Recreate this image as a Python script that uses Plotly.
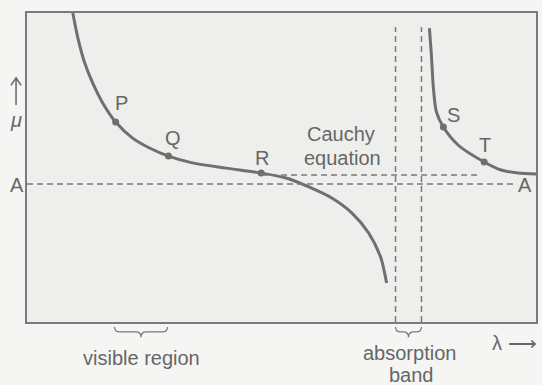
import plotly.graph_objects as go

# ---- data (arbitrary units: wavelength lambda 0-100, refractive index mu 0-100) ----
left_lambda = [9.0, 10.0, 11.35, 12.92, 14.87, 17.42, 20.74, 24.07, 27.79, 32.49,
               39.14, 45.99, 50.88, 55.38, 59.88, 63.80, 67.12, 69.47, 70.65]
left_mu = [100.0, 91.9, 83.8, 77.3, 70.9, 64.7, 59.5, 56.3, 53.7, 51.5,
           49.8, 48.2, 46.6, 43.7, 40.1, 35.3, 28.8, 21.0, 12.6]

right_lambda = [79.06, 79.45, 79.84, 80.43, 81.80, 84.74, 89.82, 93.15, 96.48, 100.0]
right_mu = [95.1, 86.4, 75.7, 68.0, 63.1, 57.2, 51.8, 49.2, 48.2, 47.9]

point_names = ["P", "Q", "R", "S", "T"]
point_lambda = [17.42, 27.79, 45.99, 81.80, 89.82]
point_mu = [64.7, 53.7, 48.2, 63.1, 51.8]

asymptote_A = 44.7          # mu level of asymptote A
asymptote_A_end = 96.3
cauchy_level = 47.6          # Cauchy-equation asymptote
cauchy_end = 88.6
absorption_band = [72.4, 77.5]
band_top = 95.5
visible_region = [17.2, 27.6]

X_RANGE = [0, 100]
Y_RANGE = [0, 100]

CURVE = "#6f6f6f"
LINE = "#7a7a7a"
TEXT = "#666666"
FONT = "Liberation Sans"
FS = 20


def px(x):  # data -> paper fraction (x)
    return (x - X_RANGE[0]) / (X_RANGE[1] - X_RANGE[0])


def py(y):  # data -> paper fraction (y)
    return (y - Y_RANGE[0]) / (Y_RANGE[1] - Y_RANGE[0])


def pt(x, y):
    return f"{px(x)},{py(y)}"


fig = go.Figure()

fig.add_trace(go.Scatter(x=left_lambda, y=left_mu, mode="lines",
                         line=dict(color=CURVE, width=3, shape="spline", smoothing=0.8),
                         hoverinfo="skip", showlegend=False))
fig.add_trace(go.Scatter(x=right_lambda, y=right_mu, mode="lines",
                         line=dict(color=CURVE, width=3, shape="spline", smoothing=0.8),
                         hoverinfo="skip", showlegend=False))
fig.add_trace(go.Scatter(x=point_lambda, y=point_mu, mode="markers",
                         marker=dict(color=CURVE, size=7),
                         hoverinfo="skip", showlegend=False))

dash = dict(color=LINE, width=1.5, dash="6px,4px")
fig.add_trace(go.Scatter(x=[0, asymptote_A_end], y=[asymptote_A, asymptote_A], mode="lines",
                         line=dash, hoverinfo="skip", showlegend=False))
fig.add_trace(go.Scatter(x=[point_lambda[2], cauchy_end], y=[cauchy_level, cauchy_level],
                         mode="lines", line=dash, hoverinfo="skip", showlegend=False))
for xb in absorption_band:
    fig.add_trace(go.Scatter(x=[xb, xb], y=[0, band_top], mode="lines",
                             line=dash, hoverinfo="skip", showlegend=False))


def ann(x, y, text, size=FS, xanchor="center"):
    fig.add_annotation(x=px(x), y=py(y), xref="paper", yref="paper", text=text,
                       xanchor=xanchor, yanchor="middle",
                       showarrow=False, font=dict(family=FONT, size=size, color=TEXT))


label_offsets = {"P": (1.2, 6.2), "Q": (0.8, 5.8), "R": (0.2, 4.9), "S": (2.0, 3.9), "T": (0.2, 5.5)}
for n, lx, ly in zip(point_names, point_lambda, point_mu):
    dx, dy = label_offsets[n]
    ann(lx + dx, ly + dy, n)

ann(61.6, 60.8, "Cauchy")
ann(62.0, 53.0, "equation")
ann(97.8, 44.3, "A")
ann(-1.95, 44.3, "A")
ann(-2.15, 65.3, "<i>μ</i>")

# up arrow for mu axis
arrow_x = -2.15
fig.add_shape(type="path", xref="paper", yref="paper",
              path=f"M {pt(arrow_x, 70.2)} L {pt(arrow_x, 79.0)}",
              line=dict(color=TEXT, width=1.5))
fig.add_shape(type="path", xref="paper", yref="paper",
              path=f"M {pt(arrow_x - 1.0, 76.6)} L {pt(arrow_x, 79.0)} L {pt(arrow_x + 1.0, 76.6)}",
              line=dict(color=TEXT, width=1.5))


def brace(xa, xb, y0=-1.6, y1=-3.2, y2=-4.9, r=1.0):
    m = (xa + xb) / 2
    return (f"M {pt(xa, y0)} Q {pt(xa, y1)} {pt(xa + r, y1)} L {pt(m - r, y1)} "
            f"Q {pt(m, y1)} {pt(m, y2)} Q {pt(m, y1)} {pt(m + r, y1)} "
            f"L {pt(xb - r, y1)} Q {pt(xb, y1)} {pt(xb, y0)}")


for rng in (visible_region, absorption_band):
    fig.add_shape(type="path", path=brace(rng[0], rng[1]), xref="paper", yref="paper",
                  line=dict(color=LINE, width=1.3))

ann(sum(visible_region) / 2, -11.6, "visible region")
ann(sum(absorption_band) / 2 + 0.2, -10.0, "absorption")
ann(sum(absorption_band) / 2 + 0.6, -17.2, "band")
ann(100.5, -6.8, "λ ⟶", xanchor="right")

fig.update_xaxes(range=X_RANGE, showgrid=False, zeroline=False, showticklabels=False,
                 ticks="", showline=True, mirror=True, linecolor=LINE, linewidth=1.5)
fig.update_yaxes(range=Y_RANGE, showgrid=False, zeroline=False, showticklabels=False,
                 ticks="", showline=True, mirror=True, linecolor=LINE, linewidth=1.5)

fig.update_layout(width=542, height=385,
                  margin=dict(l=27, r=4, t=13, b=63),
                  paper_bgcolor="#f5f5f4", plot_bgcolor="#eeeeec",
                  showlegend=False)

fig.write_html("out.html")
